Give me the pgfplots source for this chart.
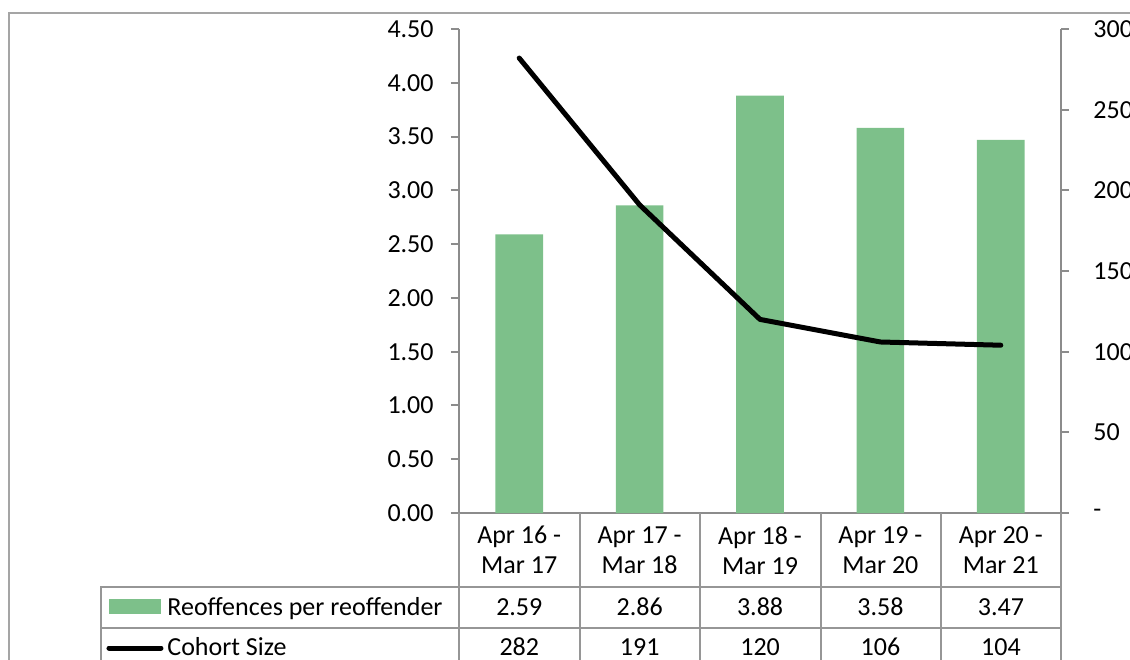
\documentclass[border=0pt]{standalone}
\usepackage{fontspec}
\setmainfont{Carlito}
\usepackage{pgfplots}
\pgfplotsset{compat=1.18}

\definecolor{barG}{RGB}{125,192,138}
\definecolor{axG}{RGB}{140,140,140}
\definecolor{tabG}{RGB}{150,150,150}
\definecolor{frameG}{RGB}{165,165,165}

% 1 px of the reference = 0.5pt; axis origin sits at px (459,513)
\pgfplotsset{
  base/.style={
    at={(0,0)}, anchor=south west,
    scale only axis, width=301pt, height=242pt,
    xmin=-0.5, xmax=4.5,
    tick align=outside, major tick length=4pt,
    axis line style={draw=axG, line width=1pt},
    tick style={draw=axG, line width=1pt},
    /pgf/number format/assume math mode=true,
    tick label style={font=\fontsize{13}{15}\selectfont, inner sep=0pt},
  },
}

\begin{document}
\begin{tikzpicture}[font=\fontsize{13}{15}\selectfont]
\useasboundingbox (-229.5pt,256.5pt) rectangle (335.5pt,-73pt);
\clip (-229.5pt,256.5pt) rectangle (335.5pt,-73pt);

\begin{axis}[base,
  ymin=0, ymax=4.5,
  axis y line*=left, axis x line*=bottom,
  ytick={0,0.5,1,1.5,2,2.5,3,3.5,4,4.5},
  yticklabel style={anchor=east, xshift=-8.5pt, /pgf/number format/.cd, fixed, fixed zerofill, precision=2},
  xtick={0,1,2,3,4},
  xticklabels={{Apr 16 -\\Mar 17},{Apr 17 -\\Mar 18},{Apr 18 -\\Mar 19},{Apr 19 -\\Mar 20},{Apr 20 -\\Mar 21}},
  xticklabel style={align=center, anchor=north, yshift=-2.5pt},
  x tick style={draw=none},
]
\addplot[ybar, bar width=23.8pt, fill=barG, draw=none]
  coordinates {(0,2.59) (1,2.86) (2,3.88) (3,3.58) (4,3.47)};
\end{axis}

\begin{axis}[base,
  ymin=0, ymax=300,
  axis y line*=right, axis x line=none,
  ytick={0,50,100,150,200,250,300},
  yticklabels={-,50,100,150,200,250,300},
  yticklabel style={anchor=west, xshift=12pt},
]
\addplot[black, line width=2.5pt, line join=round, line cap=round]
  coordinates {(0,282) (1,191) (2,120) (3,106) (4,104)};
\end{axis}

% chart frame and data table, in reference pixels
\begin{scope}[shift={(-229.5pt,256.5pt)}, x=0.5pt, y=-0.5pt]
  \draw[frameG, line width=0.6pt] (9,700) -- (9,13) -- (1140,13);
  \begin{scope}[tabG, line width=1pt]
    \foreach \xx in {459,579.5,700,820.5,941,1061}
      \draw (\xx,513) -- (\xx,700);
    \draw (101.5,700) -- (101.5,587) -- (1061,587);
    \draw (101.5,627.5) -- (1061,627.5);
  \end{scope}
  \fill[barG] (109,599) rectangle (161,614);
  \draw[black, line width=2.5pt, line cap=round] (109,648) -- (161,648);
  \node[anchor=base west, inner sep=0pt] at (167,615) {Reoffences per reoffender};
  \node[anchor=base west, inner sep=0pt] at (167,655) {Cohort Size};
  \foreach \v [count=\i from 0] in {2.59,2.86,3.88,3.58,3.47}
    \node[anchor=base, inner sep=0pt] at ({519.3+120.4*\i},615) {\v};
  \foreach \v [count=\i from 0] in {282,191,120,106,104}
    \node[anchor=base, inner sep=0pt] at ({519.3+120.4*\i},655) {\v};
\end{scope}
\end{tikzpicture}
\end{document}
